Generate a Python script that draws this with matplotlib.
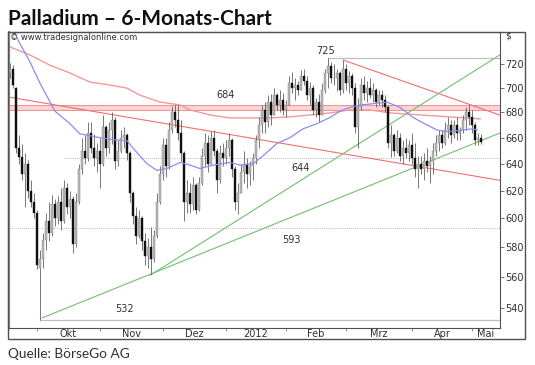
import numpy as np
import pandas as pd
import matplotlib
matplotlib.use('Agg')
import matplotlib.pyplot as plt
from matplotlib.patches import Rectangle
from matplotlib.ticker import NullLocator, FixedLocator

# trading days (US calendar) covered by the chart
holidays = ['2011-11-24', '2011-12-26', '2012-01-02', '2012-01-16', '2012-02-20', '2012-04-06']
dates = pd.bdate_range('2011-09-20', '2012-05-04')
dates = dates[~dates.isin(pd.to_datetime(holidays))]

opens = [712, 716, 700, 652, 645, 632, 640, 620, 612, 604,
         566, 572, 585, 598, 590, 610, 600, 612, 598, 622,
         608, 614, 582, 612, 636, 650, 644, 664, 652, 644,
         650, 640, 668, 652, 666, 674, 642, 650, 660, 662,
         648, 618, 602, 588, 600, 584, 574, 580, 572, 588,
         612, 632, 654, 638, 666, 680, 674, 664, 648, 612,
         618, 610, 624, 606, 626, 646, 656, 640, 660, 650,
         628, 648, 644, 652, 658, 636, 612, 618, 634, 640,
         632, 638, 644, 658, 670, 682, 672, 688, 678, 694,
         686, 690, 682, 686, 704, 700, 702, 698, 710, 706,
         694, 700, 682, 688, 678, 698, 712, 718, 708, 708,
         712, 698, 716, 704, 710, 700, 668, 684, 702, 696,
         700, 694, 698, 688, 694, 690, 684, 656, 662, 650,
         660, 646, 652, 648, 654, 644, 636, 640, 636, 642,
         638, 642, 650, 656, 662, 656, 666, 670, 662, 670,
         664, 666, 674, 680, 676, 670, 658, 660]
highs = [721, 719, 701, 662, 655, 648, 643, 628, 618, 606,
         578, 590, 604, 612, 617, 614, 616, 622, 628, 626,
         620, 616, 618, 640, 660, 662, 672, 672, 663, 656,
         660, 678, 670, 672, 680, 676, 658, 666, 668, 664,
         650, 620, 608, 606, 602, 590, 586, 594, 592, 618,
         638, 660, 660, 672, 685, 686, 686, 674, 650, 628,
         626, 630, 626, 630, 652, 664, 662, 665, 666, 652,
         654, 656, 658, 664, 660, 638, 626, 640, 650, 644,
         642, 648, 662, 676, 686, 688, 694, 695, 700, 696,
         698, 696, 690, 710, 713, 708, 706, 715, 716, 710,
         705, 702, 692, 695, 704, 716, 725, 722, 720, 716,
         714, 723, 720, 714, 712, 704, 692, 708, 710, 706,
         708, 704, 700, 698, 698, 694, 686, 670, 664, 666,
         664, 658, 660, 658, 664, 656, 646, 646, 648, 652,
         646, 656, 662, 666, 666, 672, 676, 674, 674, 676,
         668, 678, 684, 686, 682, 672, 664, 663]
lows = [708, 700, 648, 640, 628, 608, 615, 608, 600, 565,
        532, 566, 578, 584, 588, 595, 596, 592, 597, 603,
        600, 576, 580, 610, 632, 640, 642, 648, 638, 634,
        622, 638, 646, 648, 655, 636, 638, 648, 652, 643,
        612, 596, 582, 586, 578, 568, 566, 562, 570, 586,
        610, 628, 630, 636, 664, 668, 658, 642, 598, 604,
        604, 606, 603, 605, 624, 638, 634, 640, 646, 618,
        626, 638, 640, 646, 630, 606, 603, 618, 626, 622,
        624, 628, 640, 652, 664, 664, 668, 670, 678, 682,
        680, 678, 676, 686, 696, 690, 694, 698, 702, 690,
        686, 678, 676, 672, 678, 696, 700, 704, 702, 697,
        694, 696, 698, 696, 694, 664, 652, 682, 690, 688,
        692, 688, 684, 686, 684, 680, 652, 645, 646, 648,
        642, 640, 644, 642, 640, 630, 622, 632, 628, 634,
        626, 632, 646, 650, 652, 654, 660, 656, 660, 658,
        658, 664, 666, 670, 664, 654, 654, 655]
closes = [716, 702, 652, 645, 632, 640, 620, 612, 604, 568,
          572, 585, 598, 590, 610, 600, 612, 598, 622, 608,
          614, 582, 612, 636, 650, 644, 664, 652, 644, 650,
          640, 668, 652, 666, 674, 642, 650, 660, 662, 648,
          618, 602, 588, 600, 584, 574, 580, 572, 588, 612,
          632, 654, 638, 666, 680, 674, 664, 648, 612, 618,
          610, 624, 606, 626, 646, 656, 640, 660, 650, 628,
          648, 644, 652, 658, 636, 612, 618, 634, 640, 632,
          638, 644, 658, 670, 682, 672, 688, 678, 694, 686,
          690, 682, 686, 704, 700, 702, 698, 710, 706, 694,
          700, 682, 688, 678, 698, 712, 718, 708, 708, 712,
          698, 716, 704, 710, 700, 668, 684, 702, 696, 700,
          694, 698, 688, 694, 690, 684, 656, 662, 650, 660,
          646, 652, 648, 654, 644, 636, 640, 636, 642, 638,
          642, 650, 656, 662, 656, 666, 670, 662, 670, 664,
          666, 674, 680, 676, 670, 658, 660, 657]

# short moving average (blue), read at bar positions
ma_short_x = [1, 2.7, 6.7, 10, 15, 20, 23.3, 26.7, 30, 34.3, 39, 41, 45.7, 49, 52.3,
              56.7, 60, 63.3, 67.7, 73.3, 76.7, 81, 84.3, 89, 93.3, 97.7, 102.3,
              106.7, 110, 113.3, 116.7, 121, 125.7, 130, 134.3, 139, 142.3, 146,
              151, 154.3, 155.7]
ma_short_y = [750, 740.7, 721.7, 704, 681, 671, 663, 661.5, 660, 658.5, 657.7, 652,
              640, 635, 636.4, 641, 639, 636.4, 639, 641, 639, 640, 646, 655.6, 660,
              667, 671, 676, 681, 684, 686, 687, 688.3, 684, 676, 670, 666, 664.6,
              666, 667, 666]
# long moving average (red)
ma_long_x = [0, 6.7, 13.3, 20, 26.7, 33.3, 39, 43.3, 50, 56.7, 60, 66.7, 73.3, 80,
             86.7, 93.3, 100, 106.7, 113.3, 120, 126.7, 136.7, 146.7, 156.7]
ma_long_y = [734.7, 727.7, 719, 712.4, 704.8, 702.3, 699.8, 694, 688.4, 686, 682, 678,
             675.6, 675.6, 675.6, 676.4, 678, 679.6, 682, 682, 679.6, 678, 676.4, 674.8]

# trend lines: (start index, start price, end index, end price)
red_trends = [(-0.3, 692.4, 163.3, 627.6), (111, 723.4, 163.3, 677.8)]
green_trends = [(10.7, 533.5, 163.3, 663.7), (46.7, 561, 163.3, 727.8)]

levels = [725, 684, 644, 593, 532]
level_start = [106, -1, 18, -1, 10]

months = ['Okt', 'Nov', 'Dez', '2012', 'Feb', 'Mrz', 'Apr', 'Mai']
yticks = [540, 560, 580, 600, 620, 640, 660, 680, 700, 720]

W, H = 535, 365
fig = plt.figure(figsize=(W / 100, H / 100), dpi=100)
left, right, top, bottom = 9, 500, 32, 327.7
ax = fig.add_axes([left / W, 1 - bottom / H, (right - left) / W, (bottom - top) / H])
ax.set_yscale('log')
x0, x1 = -0.3, 163.3
ax.set_xlim(x0, x1)
ax.set_ylim(527.4, 747.7)

# horizontal levels
for lv, st in zip(levels, level_start):
    xs = x0 if st < 0 else st
    if lv == 684:
        ax.axhspan(682.2, 685.8, color='#fad4d4', lw=0, zorder=1)
        ax.plot([x0, x1], [682.2, 682.2], color='#f09090', lw=0.7, zorder=1)
        ax.plot([x0, x1], [685.8, 685.8], color='#f09090', lw=0.7, zorder=1)
    elif lv in (644, 593):
        ax.plot([xs, x1], [lv, lv], color='#a0a0a0', lw=0.6, ls=(0, (1, 1.5)), zorder=1)
    else:
        ax.plot([xs, x1], [lv, lv], color='#c0c0c0', lw=0.9, zorder=1)

for a, pa, b, pb in red_trends:
    ax.plot([a, b], [pa, pb], color='#f07070', lw=0.8, zorder=2)
for a, pa, b, pb in green_trends:
    ax.plot([a, b], [pa, pb], color='#70c070', lw=0.8, zorder=2)

ax.plot(ma_long_x, ma_long_y, color='#f29a9a', lw=1.0, zorder=2)
ax.plot(ma_short_x, ma_short_y, color='#8c8cf4', lw=0.9, zorder=4)

# candles
idx = np.arange(len(dates))
o = np.array(opens, float)
c = np.array(closes, float)
ax.vlines(idx, lows, highs, color='#606060', lw=0.6, zorder=3)
up = c >= o
body_lo = np.minimum(o, c)
body_h = np.maximum(np.abs(c - o), 0.6)
ax.bar(idx[up], body_h[up], bottom=body_lo[up], width=0.7, color='#b8b8b8',
       edgecolor='#808080', lw=0.3, zorder=3)
ax.bar(idx[~up], body_h[~up], bottom=body_lo[~up], width=0.7, color='#101010',
       edgecolor='#101010', lw=0.3, zorder=3)

# level labels
lab = dict(fontsize=7, color='#303030', ha='center', va='center')
ax.text(105.3, 731.2, str(levels[0]), **lab)
ax.text(71.7, 694, str(levels[1]), **lab)
ax.text(96.7, 636.7, str(levels[2]), **lab)
ax.text(93.7, 585, str(levels[3]), **lab)
ax.text(38.3, 539.4, str(levels[4]), **lab)

# axes styling
ax.yaxis.tick_right()
ax.yaxis.set_major_locator(FixedLocator(yticks))
ax.yaxis.set_minor_locator(NullLocator())
ax.set_yticklabels([str(v) for v in yticks])
ax.tick_params(axis='y', direction='out', length=3, width=0.6, color='#606060',
               labelsize=7, labelcolor='#303030', pad=1)

month_idx = [i for i in range(1, len(dates)) if dates[i].month != dates[i - 1].month]
mids = [(month_idx[k] + (month_idx[k + 1] if k + 1 < len(month_idx) else x1)) / 2
        for k in range(len(month_idx))]
ax.set_xticks(month_idx)
ax.set_xticklabels([])
ax.set_xticks(mids, minor=True)
ax.set_xticklabels(months, minor=True)
ax.tick_params(axis='x', which='major', direction='out', length=2, width=0.6, color='#808080')
ax.tick_params(axis='x', which='minor', length=0, labelsize=7, labelcolor='#303030', pad=1)

ax.spines['left'].set_color('#909090')
ax.spines['left'].set_linewidth(1.6)
for s in ('right', 'bottom', 'top'):
    ax.spines[s].set_color('#505050')
    ax.spines[s].set_linewidth(0.8)

# outer frame
fig.patches.append(Rectangle((8 / W, 1 - 339 / H), (525 - 8) / W, (339 - 32) / H,
                             transform=fig.transFigure, fill=False,
                             edgecolor='#505050', lw=1.0))

fig.text(10 / W, 1 - 37 / H, '\u00a9 www.tradesignalonline.com', fontsize=6,
         color='#303030', va='center')
fig.text(505 / W, 1 - 36 / H, '$', fontsize=6.5, color='#303030', va='center')
fig.text(8 / W, 1 - 25 / H, 'Palladium \u2013 6-Monats-Chart', fontsize=15,
         fontweight='bold', family='Lato', color='#101010', va='baseline')
fig.text(8 / W, 1 - 358 / H, 'Quelle: B\u00f6rseGo AG', fontsize=9.8,
         family='Lato', color='#303030', va='baseline')

fig.savefig('out.png', dpi=100)
